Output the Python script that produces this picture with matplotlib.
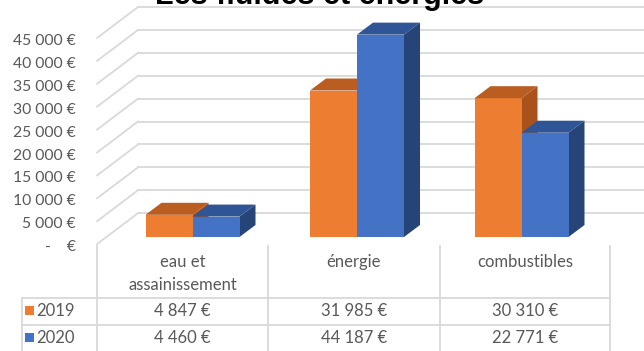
import matplotlib.pyplot as plt
from matplotlib.patches import Polygon, Rectangle

# fees per budget line, in euros
categories = ["eau et\nassainissement", "énergie", "combustibles"]
years = ["2019", "2020"]
fees_2019 = [4847, 31985, 30310]
fees_2020 = [4460, 44187, 22771]
y_ticks = [0, 5000, 10000, 15000, 20000, 25000, 30000, 35000, 40000, 45000]

# year colours: front, top, side faces
colours = {
    "2019": ("#ED7D31", "#B95D20", "#A9521B"),
    "2020": ("#4472C4", "#2F5597", "#264478"),
}

W, H = 644, 351
CAT_PX = 164.5          # pixels between category groups (bar front plane)
EUR_PX = 4.58 / 1000    # pixels per euro
BASE_PX = 237           # floor line of the bar fronts, from the top
FIRST_PX = 192.5        # centre of the first group
px_x = 1 / CAT_PX
px_y = 1 / EUR_PX

BACK = (31.6, 23.9)     # bar front plane -> back wall (pixels, right/up)
FRONT = (-9.4, -7.1)    # bar front plane -> front edge of the floor
BAR_DEPTH = (16, 12)
BAR_W = 47 * px_x
EDGE = -0.523           # left edge of the floor, category units

GRID = "#D9D9D9"
TEXT = "#595959"
FONT = "Lato"

fig = plt.figure(figsize=(W / 100, H / 100), dpi=100)
ax = fig.add_axes([0, 0, 1, 1])
ax.axis("off")
x_max = (W - FIRST_PX) * px_x
ax.set_xlim(-FIRST_PX * px_x, x_max)
ax.set_ylim((BASE_PX - H) * px_y, BASE_PX * px_y)

# back wall gridlines, side wall diagonals and value labels
for v in y_ticks:
    bx, by = EDGE + BACK[0] * px_x, v + BACK[1] * px_y
    fx, fy = EDGE + FRONT[0] * px_x, v + FRONT[1] * px_y
    ax.plot([bx, x_max + 1], [by, by], color=GRID, lw=1.3, zorder=1)
    ax.plot([fx, bx], [fy, by], color=GRID, lw=1.3, zorder=1)
    label = "-    €" if v == 0 else f"{v:,} €".replace(",", " ")
    ax.text(fx - 21 * px_x, fy - 3 * px_y, label, ha="right", va="center",
            fontsize=11.3, color=TEXT, family=FONT)


def bar3d(x0, v, cols, z):
    front, top, side = cols
    dx, dy = BAR_DEPTH[0] * px_x, BAR_DEPTH[1] * px_y
    x1 = x0 + BAR_W
    ax.add_patch(Polygon([(x1, 0), (x1 + dx, dy), (x1 + dx, v + dy), (x1, v)],
                         closed=True, facecolor=side, edgecolor="none", zorder=z))
    ax.add_patch(Rectangle((x0, 0), BAR_W, v, facecolor=front,
                           edgecolor="none", zorder=z))
    ax.add_patch(Polygon([(x0, v), (x1, v), (x1 + dx, v + dy), (x0 + dx, v + dy)],
                         closed=True, facecolor=top, edgecolor="none", zorder=z))


for i in range(len(categories)):
    bar3d(i - BAR_W, fees_2019[i], colours["2019"], 2 + 2 * i)
    bar3d(i, fees_2020[i], colours["2020"], 3 + 2 * i)

# title sits at the very top edge of the image
ax.text(-FIRST_PX * px_x + 320 * px_x, (BASE_PX - 4) * px_y, "Les fluides et énergies",
        ha="center", va="baseline", fontsize=22, fontweight="bold",
        color="black", family="Liberation Sans")

# data table under the chart
tab = fig.add_axes([0, 0, 1, 1], facecolor="none")
tab.axis("off")
tab.set_xlim(0, W)
tab.set_ylim(H, 0)

col_edges = [97, 268, 440, 610]
row_lines = [298, 325]
for x in col_edges:
    tab.plot([x, x], [246, H + 2], color=GRID, lw=1.3)
for y in row_lines:
    tab.plot([22, col_edges[-1]], [y, y], color=GRID, lw=1.3)
tab.plot([22, 22], [row_lines[0], H + 2], color=GRID, lw=1.3)

for i, name in enumerate(categories):
    cx = (col_edges[i] + col_edges[i + 1]) / 2
    tab.text(cx, 254, name, ha="center", va="top", fontsize=12,
             color=TEXT, family=FONT, linespacing=1.55)

row_centres = [310.5, 338]
for year, vals, cy in zip(years, [fees_2019, fees_2020], row_centres):
    tab.add_patch(Rectangle((25, cy - 5), 9, 9, facecolor=colours[year][0],
                            edgecolor="none"))
    tab.text(36, cy, year, ha="left", va="center", fontsize=12,
             color=TEXT, family=FONT)
    for i, v in enumerate(vals):
        cx = (col_edges[i] + col_edges[i + 1]) / 2
        tab.text(cx, cy, f"{v:,} €".replace(",", " "), ha="center", va="center",
                 fontsize=12, color=TEXT, family=FONT)

fig.savefig("out.png", dpi=100)
